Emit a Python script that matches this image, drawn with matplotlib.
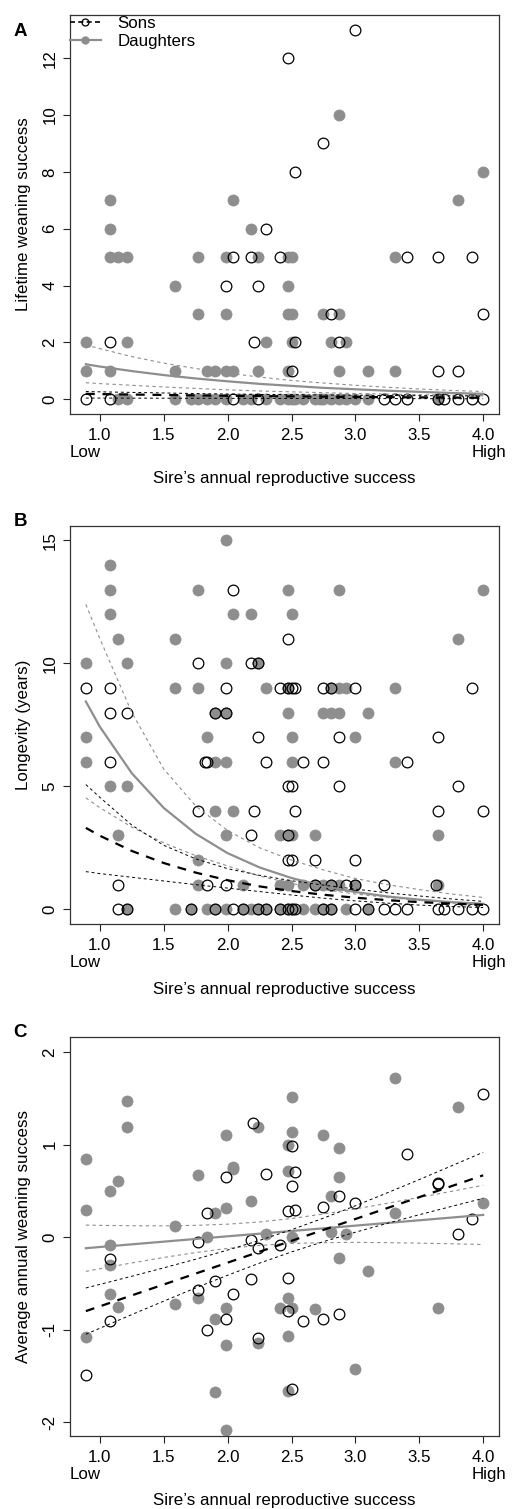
import matplotlib
matplotlib.use('Agg')
import matplotlib.pyplot as plt
from matplotlib.lines import Line2D

plt.rcParams['font.family'] = ['Liberation Sans', 'DejaVu Sans']

# ---------------- data ----------------
# Panel A: lifetime weaning success
a_son_x = [3.00, 2.47, 2.75, 2.53, 2.30,
           2.04, 2.18, 2.41, 3.40, 3.65, 3.91,
           1.99, 2.24, 2.81, 4.00,
           1.08, 2.21, 2.53, 2.87,
           2.50, 3.65, 3.80,
           0.89, 1.08, 2.04, 2.24, 3.22, 3.31, 3.40, 3.65, 3.69, 3.80, 3.91, 4.00]
a_son_y = [13, 12, 9, 8, 6,
           5, 5, 5, 5, 5, 5,
           4, 4, 3, 3,
           2, 2, 2, 2,
           1, 1, 1,
           0, 0, 0, 0, 0, 0, 0, 0, 0, 0, 0, 0]
a_dau_x = [2.87, 4.00, 1.08, 2.04, 3.80, 1.08, 2.18,
           1.08, 1.14, 1.21, 1.77, 1.99, 2.24, 2.47, 2.50, 3.31,
           1.59, 2.47,
           1.77, 1.99, 2.47, 2.50, 2.75, 2.87,
           0.89, 1.21, 2.30, 2.50, 2.81, 2.93,
           0.89, 1.08, 1.59, 1.84, 1.90, 1.99, 2.04, 2.24, 2.47, 2.87, 3.10, 3.31,
           1.14, 1.21, 1.59, 1.71, 1.77, 1.84, 1.90, 1.99, 2.12, 2.18, 2.30, 2.41,
           2.47, 2.50, 2.53, 2.59, 2.68, 2.72, 2.75, 2.81, 2.87, 2.93, 3.00, 3.10, 3.65]
a_dau_y = [10, 8, 7, 7, 7, 6, 6,
           5, 5, 5, 5, 5, 5, 5, 5, 5,
           4, 4,
           3, 3, 3, 3, 3, 3,
           2, 2, 2, 2, 2, 2,
           1, 1, 1, 1, 1, 1, 1, 1, 1, 1, 1, 1,
           0, 0, 0, 0, 0, 0, 0, 0, 0, 0, 0, 0,
           0, 0, 0, 0, 0, 0, 0, 0, 0, 0, 0, 0, 0]

# Panel B: longevity
b_son_x = [2.04, 2.47, 1.77, 2.18, 2.24,
           0.89, 1.08, 1.99, 2.41, 2.47, 2.50, 2.53, 2.75, 2.81, 3.00, 3.91,
           1.08, 1.21, 1.90, 1.99,
           2.24, 2.87, 3.65,
           1.08, 1.82, 1.84, 2.30, 2.59, 2.75, 3.40,
           2.47, 2.50, 2.87, 3.80,
           1.77, 2.21, 2.53, 3.65, 4.00,
           2.18, 2.47,
           2.47, 2.50, 2.68, 3.00,
           1.14, 1.84, 1.99, 2.68, 2.81, 2.93, 3.00, 3.22, 3.63,
           1.14, 1.21, 1.71, 1.90, 2.04, 2.12, 2.24, 2.30, 2.41, 2.47, 2.50, 2.53,
           2.75, 2.81, 3.00, 3.10, 3.22, 3.31, 3.40, 3.65, 3.69, 3.80, 3.91, 4.00]
b_son_y = [13, 11, 10, 10, 10,
           9, 9, 9, 9, 9, 9, 9, 9, 9, 9, 9,
           8, 8, 8, 8,
           7, 7, 7,
           6, 6, 6, 6, 6, 6, 6,
           5, 5, 5, 5,
           4, 4, 4, 4, 4,
           3, 3,
           2, 2, 2, 2,
           1, 1, 1, 1, 1, 1, 1, 1, 1,
           0, 0, 0, 0, 0, 0, 0, 0, 0, 0, 0, 0,
           0, 0, 0, 0, 0, 0, 0, 0, 0, 0, 0, 0]
b_dau_x = [1.99, 1.08,
           1.08, 1.77, 2.47, 2.87, 4.00,
           1.08, 2.04, 2.18, 2.50,
           1.14, 1.59, 3.80,
           0.89, 1.21, 1.99, 2.24,
           1.59, 1.77, 2.30, 2.47, 2.81, 2.87, 2.93, 3.31,
           1.90, 1.99, 2.47, 2.75, 2.81, 2.87, 3.10,
           0.89, 1.84, 2.50, 3.00,
           0.89, 1.90, 1.99, 2.50, 3.31,
           1.08, 1.21,
           1.90, 2.04,
           1.14, 1.99, 2.41, 2.47, 2.50, 2.68, 3.65,
           1.77,
           1.77, 2.12, 2.41, 2.47, 2.59, 2.68, 2.75, 2.81, 2.87, 3.00, 3.65,
           1.21, 1.59, 1.71, 1.84, 1.90, 1.99, 2.12, 2.18, 2.24, 2.30,
           2.41, 2.47, 2.50, 2.59, 2.68, 2.75, 2.81, 2.93, 3.10]
b_dau_y = [15, 14,
           13, 13, 13, 13, 13,
           12, 12, 12, 12,
           11, 11, 11,
           10, 10, 10, 10,
           9, 9, 9, 9, 9, 9, 9, 9,
           8, 8, 8, 8, 8, 8, 8,
           7, 7, 7, 7,
           6, 6, 6, 6, 6,
           5, 5,
           4, 4,
           3, 3, 3, 3, 3, 3, 3,
           2,
           1, 1, 1, 1, 1, 1, 1, 1, 1, 1, 1,
           0, 0, 0, 0, 0, 0, 0, 0, 0, 0,
           0, 0, 0, 0, 0, 0, 0, 0, 0]

# Panel C: average annual weaning success
c_son_x = [0.89, 1.08, 1.08, 1.77, 1.77, 1.84, 1.84, 1.90, 1.99, 1.99, 2.04,
           2.18, 2.18, 2.20, 2.24, 2.24, 2.30, 2.41, 2.47, 2.47, 2.47, 2.50,
           2.50, 2.50, 2.53, 2.53, 2.59, 2.75, 2.75, 2.87, 2.87, 3.00, 3.40,
           3.65, 3.65, 3.80, 3.91, 4.00]
c_son_y = [-1.49, -0.235, -0.91, -0.57, -0.05, 0.26, -1.00, -0.47, 0.65, -0.89, -0.62,
           -0.45, -0.03, 1.23, -0.12, -1.09, 0.68, -0.08, 0.28, -0.44, -0.80, 0.99,
           0.555, -1.64, 0.70, 0.295, -0.91, 0.33, -0.89, 0.44, -0.83, 0.37, 0.90,
           0.59, 0.57, 0.03, 0.195, 1.545]
c_dau_x = [0.89, 0.89, 0.89, 1.08, 1.08, 1.08, 1.08, 1.14, 1.14, 1.21, 1.21,
           1.59, 1.59, 1.77, 1.77, 1.84, 1.90, 1.90, 1.90, 1.99, 1.99, 1.99,
           1.99, 1.99, 2.04, 2.04, 2.18, 2.24, 2.24, 2.30, 2.41, 2.47, 2.47,
           2.47, 2.47, 2.47, 2.50, 2.50, 2.50, 2.50, 2.68, 2.75, 2.81, 2.81,
           2.87, 2.87, 2.87, 2.93, 3.00, 3.10, 3.31, 3.31, 3.65, 3.80, 4.00]
c_dau_y = [0.846, 0.29, -1.08, 0.50, -0.09, -0.30, -0.62, 0.61, -0.76, 1.47, 1.19,
           0.12, -0.72, 0.67, -0.66, 0.0, 0.26, -0.89, -1.67, 1.10, 0.31, -0.77,
           -1.165, -2.09, 0.76, 0.74, 0.385, 1.19, -1.15, 0.03, -0.77, 1.00, 0.71,
           -0.66, -1.07, -1.66, 1.51, 1.14, 0.006, -0.77, -0.78, 1.10, 0.44, 0.05,
           0.965, 0.655, -0.23, 0.03, -1.43, -0.37, 1.716, 0.26, -0.77, 1.41, 0.37]

# fitted curves at these x positions
fit_x = [0.89, 1.0, 1.25, 1.5, 1.75, 2.0, 2.25, 2.5, 2.75, 3.0, 3.25, 3.5, 3.75, 4.0]

a_dau_fit = [1.23, 1.15, 0.99, 0.85, 0.73, 0.63, 0.54, 0.47, 0.40, 0.35, 0.30, 0.26, 0.22, 0.19]
a_dau_hi = [1.91, 1.78, 1.50, 1.27, 1.08, 0.92, 0.78, 0.66, 0.57, 0.49, 0.42, 0.36, 0.31, 0.27]
a_dau_lo = [0.58, 0.55, 0.49, 0.43, 0.38, 0.33, 0.29, 0.26, 0.23, 0.20, 0.18, 0.16, 0.14, 0.12]
a_son_fit = [0.19, 0.18, 0.165, 0.15, 0.135, 0.12, 0.11, 0.10, 0.09, 0.08, 0.072, 0.065, 0.058, 0.05]
a_son_hi = [0.27, 0.26, 0.24, 0.22, 0.20, 0.18, 0.17, 0.16, 0.15, 0.14, 0.13, 0.125, 0.12, 0.115]
a_son_lo = [0.04, 0.04, 0.038, 0.036, 0.034, 0.032, 0.03, 0.028, 0.026, 0.024, 0.022, 0.02, 0.018, 0.016]

b_dau_fit = [8.45, 7.42, 5.53, 4.12, 3.07, 2.28, 1.70, 1.27, 0.94, 0.70, 0.52, 0.39, 0.29, 0.22]
b_dau_hi = [12.4, 11.0, 8.0, 5.7, 4.2, 3.2, 2.5, 2.0, 1.6, 1.25, 1.0, 0.8, 0.62, 0.48]
b_dau_lo = [4.53, 4.13, 3.34, 2.70, 2.18, 1.76, 1.35, 1.05, 0.80, 0.62, 0.48, 0.36, 0.26, 0.17]
b_son_fit = [3.31, 2.99, 2.37, 1.88, 1.49, 1.18, 0.93, 0.74, 0.59, 0.47, 0.37, 0.29, 0.23, 0.18]
b_son_hi = [5.07, 4.55, 3.42, 2.60, 2.05, 1.65, 1.38, 1.16, 0.98, 0.82, 0.67, 0.54, 0.42, 0.32]
b_son_lo = [1.53, 1.45, 1.30, 1.15, 1.00, 0.86, 0.72, 0.58, 0.45, 0.34, 0.25, 0.17, 0.11, 0.07]

c_dau_fit = [-0.12, -0.107, -0.078, -0.049, -0.020, 0.009, 0.037, 0.066, 0.095, 0.124, 0.153, 0.182, 0.211, 0.240]
c_dau_hi = [0.13, 0.127, 0.123, 0.122, 0.127, 0.14, 0.164, 0.201, 0.25, 0.305, 0.366, 0.429, 0.494, 0.56]
c_dau_lo = [-0.37, -0.342, -0.279, -0.220, -0.167, -0.122, -0.09, -0.069, -0.06, -0.057, -0.06, -0.065, -0.072, -0.08]
c_son_fit = [-0.80, -0.748, -0.63, -0.512, -0.394, -0.276, -0.158, -0.04, 0.078, 0.196, 0.314, 0.432, 0.55, 0.668]
c_son_hi = [-0.55, -0.511, -0.423, -0.332, -0.239, -0.14, -0.035, 0.08, 0.205, 0.339, 0.479, 0.622, 0.769, 0.917]
c_son_lo = [-1.05, -0.985, -0.837, -0.692, -0.549, -0.412, -0.281, -0.16, -0.049, 0.053, 0.149, 0.242, 0.331, 0.419]

x_ticks = [1.0, 1.5, 2.0, 2.5, 3.0, 3.5, 4.0]
xlab = 'Sire\u2019s annual reproductive success'

GREY = '#8e8e8e'
FS = 12.2
W, H = 514, 1509

fig = plt.figure(figsize=(W / 100, H / 100), dpi=100)


def px_rect(top, bottom, left=70, right=499):
    return [left / W, 1 - bottom / H, (right - left) / W, (bottom - top) / H]


panels = [
    dict(rect=px_rect(15, 414), letter='A', ylabel='Lifetime weaning success',
         ylim=(-0.52, 13.52), yticks=[0, 2, 4, 6, 8, 10, 12],
         son=(a_son_x, a_son_y), dau=(a_dau_x, a_dau_y),
         fits=(a_son_fit, a_son_hi, a_son_lo, a_dau_fit, a_dau_hi, a_dau_lo), letter_dy=16.5),
    dict(rect=px_rect(525.7, 924), letter='B', ylabel='Longevity (years)',
         ylim=(-0.6, 15.6), yticks=[0, 5, 10, 15],
         son=(b_son_x, b_son_y), dau=(b_dau_x, b_dau_y),
         fits=(b_son_fit, b_son_hi, b_son_lo, b_dau_fit, b_dau_hi, b_dau_lo), letter_dy=-4.5),
    dict(rect=px_rect(1037.3, 1436), letter='C', ylabel='Average annual weaning success',
         ylim=(-2.15, 2.16), yticks=[-2, -1, 0, 1, 2],
         son=(c_son_x, c_son_y), dau=(c_dau_x, c_dau_y),
         fits=(c_son_fit, c_son_hi, c_son_lo, c_dau_fit, c_dau_hi, c_dau_lo), letter_dy=-4.5),
]

for i, p in enumerate(panels):
    ax = fig.add_axes(p['rect'])
    ax.set_xlim(0.766, 4.124)
    ax.set_ylim(*p['ylim'])

    # points: daughters filled grey, sons open black on top
    ax.plot(p['dau'][0], p['dau'][1], 'o', ms=8.0, mfc=GREY, mec=GREY, mew=0.5, zorder=2)
    ax.plot(p['son'][0], p['son'][1], 'o', ms=7.7, mfc='none', mec='black', mew=0.9, zorder=3)

    s_fit, s_hi, s_lo, d_fit, d_hi, d_lo = p['fits']
    ax.plot(fit_x, d_fit, '-', color=GREY, lw=1.6, zorder=4)
    ax.plot(fit_x, d_hi, color=GREY, lw=0.8, ls=(0, (3, 3)), zorder=4)
    ax.plot(fit_x, d_lo, color=GREY, lw=0.8, ls=(0, (3, 3)), zorder=4)
    ax.plot(fit_x, s_fit, color='black', lw=1.6, ls=(0, (4, 3.5)), zorder=5)
    ax.plot(fit_x, s_hi, color='black', lw=0.7, ls=(0, (3, 3)), zorder=5)
    ax.plot(fit_x, s_lo, color='black', lw=0.7, ls=(0, (3, 3)), zorder=5)

    ax.set_xticks(x_ticks)
    ax.set_xticklabels(['%.1f' % t for t in x_ticks])
    ax.set_yticks(p['yticks'])
    ax.set_yticklabels([str(t) for t in p['yticks']])
    ax.tick_params(direction='out', length=5, width=0.8, labelsize=FS, color='#222222')
    ax.tick_params(axis='x', pad=5)
    ax.tick_params(axis='y', pad=4)
    for lbl in ax.get_yticklabels():
        lbl.set_rotation(90)
        lbl.set_va('center')
    for sp in ax.spines.values():
        sp.set_linewidth(0.9)
        sp.set_color('#333333')

    ax.annotate('Low', xy=(0, 0), xycoords='axes fraction', xytext=(0, -38.5),
                textcoords='offset pixels', ha='left', va='center', fontsize=FS)
    ax.annotate('High', xy=(1, 0), xycoords='axes fraction', xytext=(7, -38.5),
                textcoords='offset pixels', ha='right', va='center', fontsize=FS)
    ax.annotate(xlab, xy=(0.5, 0), xycoords='axes fraction', xytext=(0, -65),
                textcoords='offset pixels', ha='center', va='center', fontsize=FS)
    ax.annotate(p['ylabel'], xy=(0, 0.5), xycoords='axes fraction', xytext=(-46, 0),
                textcoords='offset pixels', ha='center', va='center', rotation=90,
                fontsize=FS)
    top_px = (1 - p['rect'][1] - p['rect'][3]) * H
    fig.text(20.5 / W, 1 - (top_px + p['letter_dy']) / H, p['letter'], fontsize=13.5,
             fontweight='bold', ha='center', va='center')

    if i == 0:
        handles = [Line2D([], [], color='black', lw=1.2, ls=(0, (3, 2)), marker='o',
                          ms=5, mfc='none', mec='black', mew=0.9),
                   Line2D([], [], color=GREY, lw=1.6, marker='o', ms=5,
                          mfc=GREY, mec=GREY)]
        ax.legend(handles, ['Sons', 'Daughters'], loc='upper left',
                  bbox_to_anchor=(70 / W, 1 - 15.5 / H), bbox_transform=fig.transFigure,
                  frameon=False, fontsize=FS, handlelength=1.8, handletextpad=1.0,
                  labelspacing=0.2, borderpad=0, borderaxespad=0)

fig.savefig('out.png', dpi=100)
